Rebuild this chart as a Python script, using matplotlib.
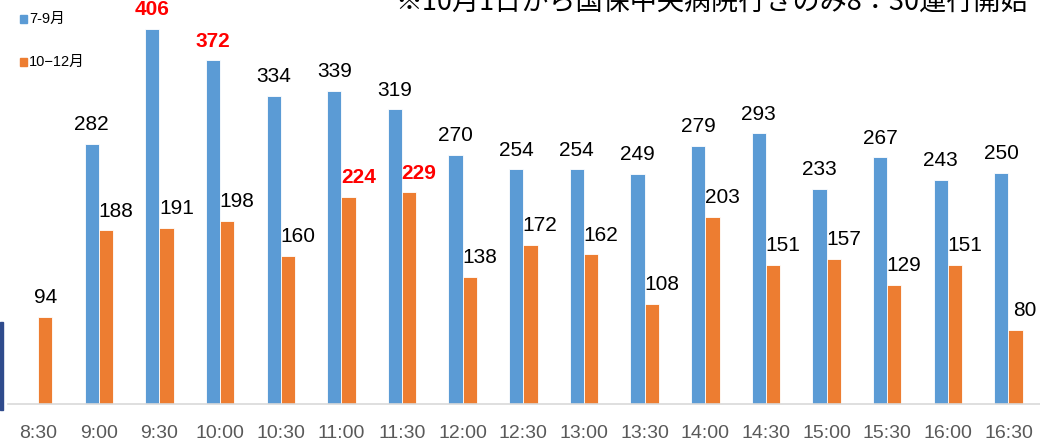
import numpy as np
import matplotlib.pyplot as plt
from matplotlib.patches import Rectangle

plt.rcParams['font.family'] = ['Liberation Sans', 'Noto Sans CJK JP', 'DejaVu Sans']

times = ["8:30", "9:00", "9:30", "10:00", "10:30", "11:00", "11:30", "12:00", "12:30",
         "13:00", "13:30", "14:00", "14:30", "15:00", "15:30", "16:00", "16:30"]
jul_sep = [np.nan, 282, 406, 372, 334, 339, 319, 270, 254, 254, 249, 279, 293, 233, 267, 243, 250]
oct_dec = [94, 188, 191, 198, 160, 224, 229, 138, 172, 162, 108, 203, 151, 157, 129, 151, 80]
red_blue = [406, 372]
red_orange = [224, 229]

blue = '#5B9BD5'
orange = '#ED7D31'

fig = plt.figure(figsize=(10.4, 4.41), dpi=100)
ax = fig.add_axes([0.0, 0.0839, 1.0, 0.9161])

x = np.arange(len(times))
w = 0.235
ax.bar(x - w / 2, jul_sep, w, color=blue, edgecolor='white', linewidth=0.6)
ax.bar(x + w / 2, oct_dec, w, color=orange, edgecolor='white', linewidth=0.6)

for i, v in enumerate(jul_sep):
    if np.isnan(v):
        continue
    red = v in red_blue
    ax.text(i - w / 2, v + 15, str(int(v)), ha='center', va='baseline', fontsize=15,
            color='red' if red else 'black', fontweight='bold' if red else 'normal')
for i, v in enumerate(oct_dec):
    red = v in red_orange
    off = 0 if i == 0 else 0.16
    ax.text(i + w / 2 + off, v + 15, str(v), ha='center', va='baseline', fontsize=15,
            color='red' if red else 'black', fontweight='bold' if red else 'normal')

ax.set_xlim(-0.63, 16.52)
ax.set_ylim(0, 437.4)
ax.set_xticks(x)
ax.set_xticklabels(times, fontsize=14, color='#595959')
ax.tick_params(axis='x', length=0, pad=15)
ax.set_yticks([])
for s in ['top', 'right', 'left']:
    ax.spines[s].set_visible(False)
ax.spines['bottom'].set_color('#D9D9D9')
ax.spines['bottom'].set_linewidth(1.2)
ax.spines['bottom'].set_bounds(-0.50, 16.52)

# legend drawn by hand
H = 441.0
W = 1040.0
for yy, col, lab in [(19, blue, '7-9月'), (62, orange, '10−12月')]:
    fig.patches.append(Rectangle((20 / W, 1 - (yy + 4) / H), 7 / W, 8 / H,
                                 transform=fig.transFigure, color=col))
    fig.text(29 / W, 1 - yy / H, lab, fontsize=10.5, va='center', ha='left')

# dark bar on the left edge
fig.patches.append(Rectangle((0, 1 - 410 / H), 3 / W, 88 / H,
                             transform=fig.transFigure, color='#2F4B8C'))

# note at top, cut off by the top edge as in the original
fig.text(395 / W, 1 - 10 / H, '※10月1日から国保中央病院行きのみ8：30運行開始',
         fontsize=19.5, ha='left', va='baseline', color='black',
         family=['Noto Sans CJK JP', 'DejaVu Sans'])

fig.savefig('out.png', dpi=100)
